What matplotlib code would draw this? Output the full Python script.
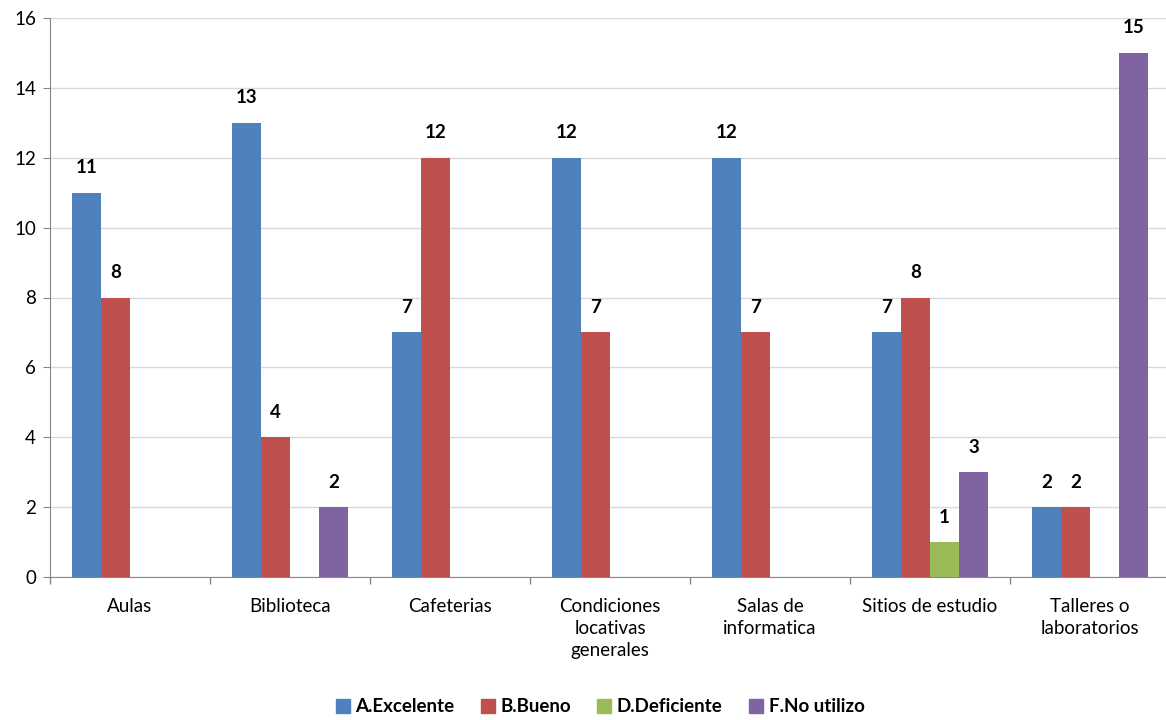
import matplotlib.pyplot as plt
import numpy as np
from matplotlib.patches import Patch

plt.rcParams['font.family'] = ['Lato', 'DejaVu Sans']

categories = ["Aulas", "Biblioteca", "Cafeterias", "Condiciones\nlocativas\ngenerales",
              "Salas de\ninformatica", "Sitios de estudio", "Talleres o\nlaboratorios"]
series_names = ["A.Excelente", "B.Bueno", "D.Deficiente", "F.No utilizo"]
excelente = [11, 13, 7, 12, 12, 7, 2]
bueno = [8, 4, 12, 7, 7, 8, 2]
deficiente = [0, 0, 0, 0, 0, 1, 0]
no_utilizo = [0, 2, 0, 0, 0, 3, 15]
colors = ["#4F81BD", "#C0504D", "#9BBB59", "#8064A2"]

series = [excelente, bueno, deficiente, no_utilizo]

fig = plt.figure(figsize=(11.66, 7.2), dpi=100)
ax = fig.add_axes([50 / 1166, 1 - 577 / 720, 1120 / 1166, 559 / 720])

x = np.arange(len(categories))
w = 0.181
for i, (vals, c) in enumerate(zip(series, colors)):
    pos = x + (i - 1.5) * w
    bars = ax.bar(pos, vals, w, color=c, zorder=3)
    for b, v in zip(bars, vals):
        if v > 0:
            ax.annotate(str(v), (b.get_x() + b.get_width() / 2, v), xytext=(0, 18),
                        textcoords="offset points", ha="center", va="center",
                        fontsize=13.5, fontweight="bold")

ax.set_ylim(0, 16)
ax.set_yticks(range(0, 17, 2))
ax.set_xlim(-0.5, len(categories) - 0.5)
ax.set_xticks(x)
ax.set_xticklabels(categories, fontsize=13.5, linespacing=1.38)
ax.set_xticks(np.arange(-0.5, len(categories), 1), minor=True)
ax.tick_params(axis="x", which="major", length=0, pad=15)
ax.tick_params(axis="x", which="minor", length=5, color="#868686", width=1)
ax.tick_params(axis="y", length=5, color="#868686", labelsize=13.5, pad=5)
ax.grid(axis="y", color="#D9D9D9", linewidth=1, zorder=0)
for s in ["top", "right"]:
    ax.spines[s].set_visible(False)
for s in ["left", "bottom"]:
    ax.spines[s].set_color("#868686")

handles = [Patch(color=c) for c in colors]
fig.legend(handles, series_names, loc="center", bbox_to_anchor=(600 / 1166, 1 - 707 / 720),
           ncol=4, frameon=False, prop={"weight": "bold", "size": 13.5},
           handlelength=0.75, handleheight=0.75, handletextpad=0.3, columnspacing=1.4)

fig.savefig("out.png", dpi=100)
